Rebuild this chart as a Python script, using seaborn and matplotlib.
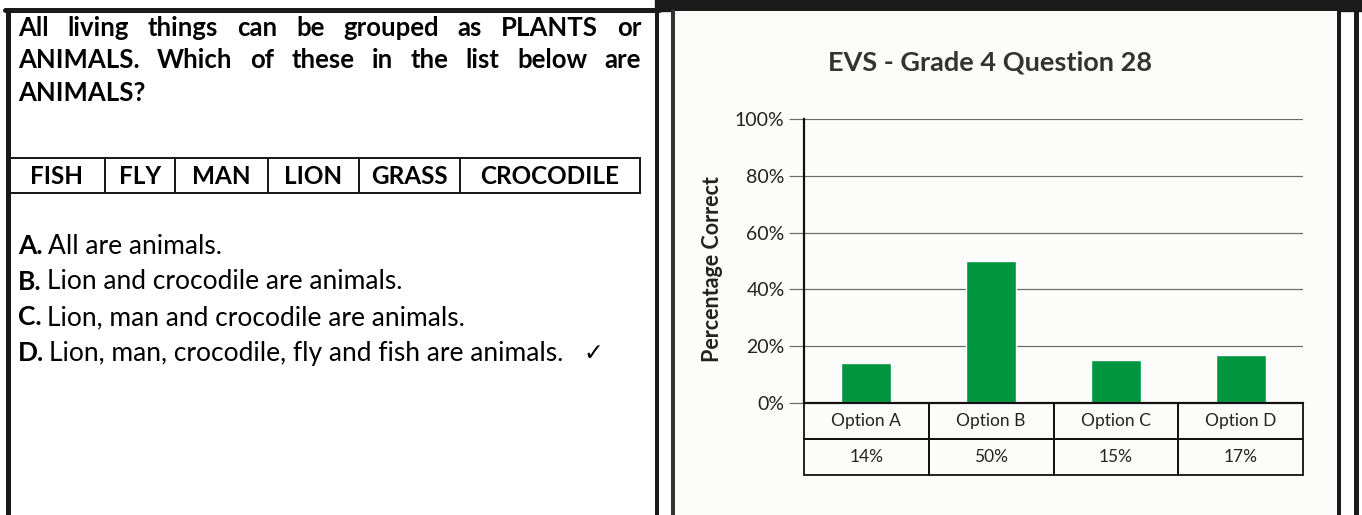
import matplotlib.pyplot as plt
import seaborn as sns

# данные графика
options = ['Option A', 'Option B', 'Option C', 'Option D']
percent_correct = [14, 50, 15, 17]
y_ticks = [0, 20, 40, 60, 80, 100]
chart_title = 'EVS - Grade 4 Question 28'
y_label = 'Percentage Correct'

# текст вопроса
question_lines = ['All living things can be grouped as PLANTS or',
                  'ANIMALS. Which of these in the list below are',
                  'ANIMALS?']
words = ['FISH', 'FLY', 'MAN', 'LION', 'GRASS', 'CROCODILE']
answer_keys = ['A.', 'B.', 'C.', 'D.']
answer_texts = ['All are animals.',
                'Lion and crocodile are animals.',
                'Lion, man and crocodile are animals.',
                'Lion, man, crocodile, fly and fish are animals.']
correct_key = 'D.'

W, H = 1362, 515
sns.set_theme(style='white')
plt.rcParams['font.family'] = ['Lato', 'DejaVu Sans']

fig = plt.figure(figsize=(W / 100, H / 100), dpi=100)
bg = fig.add_axes([0, 0, 1, 1])
bg.set_xlim(0, W)
bg.set_ylim(H, 0)
bg.axis('off')
px = 0.72  # 1 px в пунктах

# рамки
bg.plot([7.5, 7.5], [H + 5, 9.5], color='k', lw=5 * px, solid_capstyle='projecting')
bg.plot([5, 659], [9.5, 9.5], color='k', lw=5 * px)
bg.plot([657, 657], [0, H + 5], color='k', lw=4 * px)
bg.add_patch(plt.Rectangle((655, 0), W - 655, 11, color='k'))
bg.add_patch(plt.Rectangle((673, 11), 666, H, facecolor='#fcfcfa', edgecolor='none'))
bg.plot([673, 673], [11, H + 5], color='#333333', lw=4 * px)
bg.plot([1339, 1339], [11, H + 5], color='#1a1a1a', lw=4 * px)
bg.plot([1355.5, 1355.5], [0, H + 5], color='k', lw=5 * px)

renderer = fig.canvas.get_renderer()


def justify(line, x0, x1, y, **kw):
    parts = line.split()
    arts = [bg.text(x0, y, p, va='center', **kw) for p in parts]
    widths = [a.get_window_extent(renderer).width for a in arts]
    gap = (x1 - x0 - sum(widths)) / (len(parts) - 1)
    x = x0
    for a, w in zip(arts, widths):
        a.set_x(x)
        x += w + gap


q_font = dict(fontsize=18.5, weight='bold', color='black')
justify(question_lines[0], 18, 641, 28, **q_font)
justify(question_lines[1], 18, 641, 60.5, **q_font)
bg.text(18, 93, question_lines[2], va='center', **q_font)

# таблица слов
col_edges = [8, 105, 175, 268, 359, 460, 640]
bg.add_patch(plt.Rectangle((8, 158), 632, 35, fill=False, edgecolor='k', lw=2 * px))
for xe in col_edges[1:-1]:
    bg.plot([xe, xe], [158, 193], color='k', lw=2 * px)
for i, w in enumerate(words):
    bg.text((col_edges[i] + col_edges[i + 1]) / 2, 176, w, ha='center', va='center',
            fontsize=17.5, weight='bold', color='black')

# варианты ответов
for i, (k, t) in enumerate(zip(answer_keys, answer_texts)):
    y = 246 + i * 35.7
    kt = bg.text(18, y, k, va='center', fontsize=19, weight='bold', color='black')
    kw_ = kt.get_window_extent(renderer).width
    bg.text(18 + kw_ + 5, y, t, va='center', fontsize=19, color='black')
    if k == correct_key:
        bg.text(593, y, '\u2713', ha='center', va='center', fontsize=17,
                family=['DejaVu Sans'], color='black')

# заголовок графика
bg.text(990, 63, chart_title, ha='center', va='center', fontsize=19.5,
        weight='bold', color='#333333')

# график
ax = fig.add_axes([804 / W, (H - 403) / H, (1303 - 804) / W, (403 - 119) / H])
ax.set_facecolor('none')
sns.barplot(x=options, y=percent_correct, color='#009640', saturation=1,
            width=0.4, ax=ax)
ax.set_xlim(-0.5, 3.5)
ax.set_ylim(0, 100)
ax.set_yticks(y_ticks)
ax.set_yticklabels([f'{t}%' for t in y_ticks], fontsize=14, color='#222222')
ax.yaxis.grid(True, color='#6a6a6a', lw=1.2 * px)
ax.set_axisbelow(True)
ax.tick_params(axis='y', left=True, length=11, width=1.2 * px, color='#6a6a6a',
               direction='out', pad=3)
ax.tick_params(axis='x', bottom=False, labelbottom=False)
ax.set_xlabel('')
for s in ['top', 'right']:
    ax.spines[s].set_visible(False)
for s in ['left', 'bottom']:
    ax.spines[s].set_color('#111111')
    ax.spines[s].set_linewidth(2.2 * px)
ax.set_ylabel(y_label, fontsize=15.5, weight='bold', color='#222222')
ax.yaxis.set_label_coords(-0.162, 0.47)

# таблица значений под осью
tbl = ax.table(cellText=[options, [f'{v}%' for v in percent_correct]],
               cellLoc='center', bbox=[0, -72 / 284, 1, 72 / 284])
tbl.auto_set_font_size(False)
for cell in tbl.get_celld().values():
    cell.set_edgecolor('#111111')
    cell.set_linewidth(1.8 * px)
    cell.set_facecolor('none')
    cell.get_text().set_fontsize(12.5)
    cell.get_text().set_color('#222222')

fig.savefig('out.png', dpi=100)
